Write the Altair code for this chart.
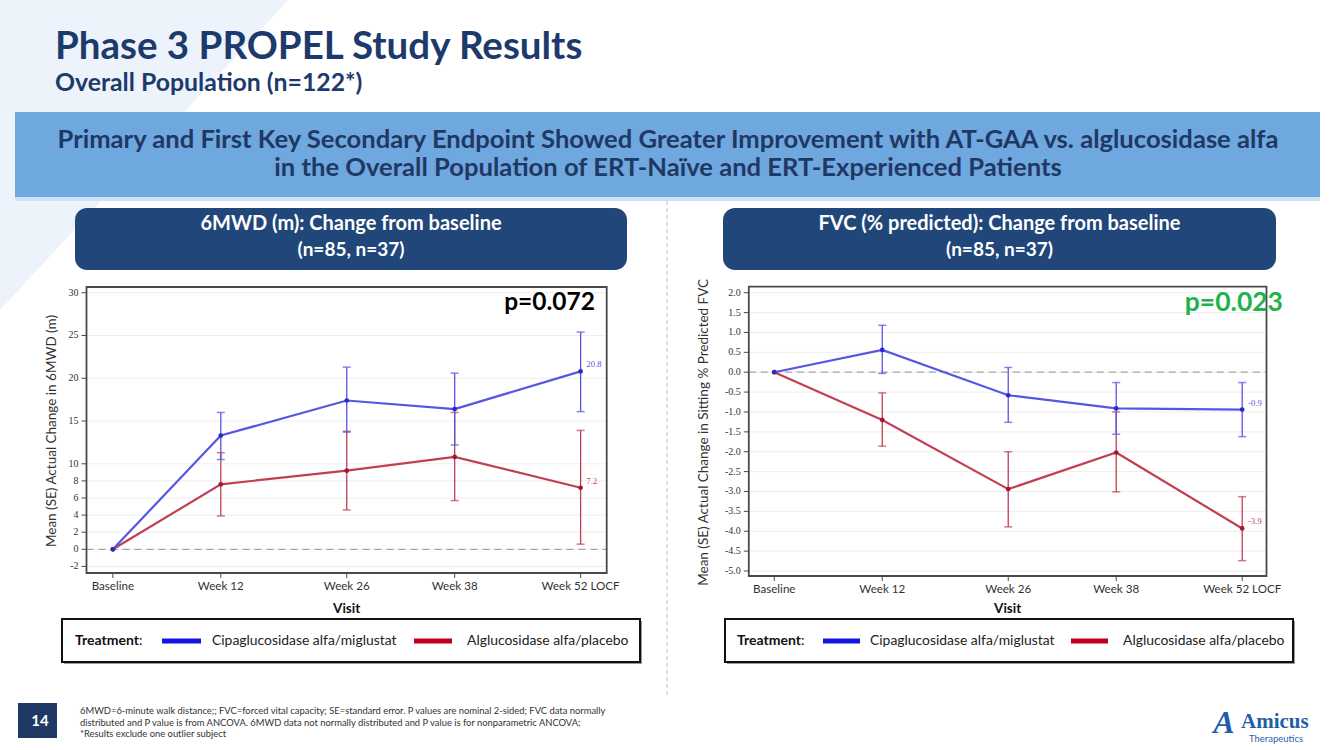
import altair as alt
import pandas as pd

# ---------------- data ----------------
weeks = [0, 12, 26, 38, 52]
visit_labels = ["Baseline", "Week 12", "Week 26", "Week 38", "Week 52 LOCF"]

mwd_cipa_mean = [0, 13.3, 17.4, 16.4, 20.8]
mwd_cipa_lo = [None, 10.5, 13.7, 12.2, 16.1]
mwd_cipa_hi = [None, 16.0, 21.3, 20.6, 25.4]
mwd_alg_mean = [0, 7.6, 9.2, 10.8, 7.2]
mwd_alg_lo = [None, 3.9, 4.6, 5.7, 0.6]
mwd_alg_hi = [None, 11.3, 13.8, 16.0, 13.9]

fvc_cipa_mean = [0, 0.56, -0.58, -0.91, -0.94]
fvc_cipa_lo = [None, -0.03, -1.26, -1.56, -1.62]
fvc_cipa_hi = [None, 1.18, 0.12, -0.26, -0.26]
fvc_alg_mean = [0, -1.2, -2.94, -2.02, -3.93]
fvc_alg_lo = [None, -1.86, -3.89, -3.01, -4.74]
fvc_alg_hi = [None, -0.52, -2.0, -1.0, -3.13]

mwd_yticks = [-2, 0, 2, 4, 6, 8, 10, 15, 20, 25, 30]
mwd_ylabels = ["-2", "0", "2", "4", "6", "8", "10", "15", "20", "25", "30"]
fvc_yticks = [2.0, 1.5, 1.0, 0.5, 0.0, -0.5, -1.0, -1.5, -2.0, -2.5, -3.0, -3.5, -4.0, -4.5, -5.0]
fvc_ylabels = ["2.0", "1.5", "1.0", "0.5", "0.0", "-0.5", "-1.0", "-1.5", "-2.0", "-2.5",
               "-3.0", "-3.5", "-4.0", "-4.5", "-5.0"]

series_names = ["Cipaglucosidase alfa/miglustat", "Alglucosidase alfa/placebo"]

# ---------------- styles / geometry ----------------
SANS = "Lato"
SERIF = "Liberation Serif"
NAVY = "#1d3a6c"
BOXNAVY = "#21467a"
BANNER = "#6fa7df"
BLUE_LINE = "#5656e4"
BLUE_PT = "#2a2ac4"
RED_LINE = "#c23f52"
RED_PT = "#a3182f"

LP = dict(x0=86.5, x1=606.7, y0=287.0, y1=573.0, xdom=[-2.93, 54.9], ydom=[-2.77, 30.67])
RP = dict(x0=748.8, x1=1266.5, y0=286.7, y1=576.0, xdom=[-2.83, 54.7], ydom=[-5.126, 2.151])

one = pd.DataFrame({"k": [0]})
layers = []


def V(v):
    return alt.value(v)


def text(x, y, s, size, color="#000", weight="normal", font=SANS, align="left",
         baseline="middle", angle=0, style=None):
    kw = dict(text=s, fontSize=size, color=color, fontWeight=weight, font=font,
              align=align, baseline=baseline)
    if angle:
        kw["angle"] = angle
    if style:
        kw["fontStyle"] = style
    return alt.Chart(one).mark_text(**kw).encode(x=V(x), y=V(y))


def rect(x, x2, y, y2, fill, stroke=None, sw=0, radius=0, opacity=1):
    kw = dict(fill=fill, opacity=opacity)
    if stroke:
        kw["stroke"] = stroke
        kw["strokeWidth"] = sw
    if radius:
        kw["cornerRadius"] = radius
    return alt.Chart(one).mark_rect(**kw).encode(x=V(x), x2=V(x2), y=V(y), y2=V(y2))


def hline(x, x2, y, color, sw, dash=None):
    kw = dict(color=color, strokeWidth=sw)
    if dash:
        kw["strokeDash"] = dash
    return alt.Chart(one).mark_rule(**kw).encode(x=V(x), x2=V(x2), y=V(y))


# ---------------- slide background ----------------
layers.append(
    alt.Chart(one).mark_point(
        shape="M 0 0 L 0.93 0 L 0 1 Z", filled=True, fill="#edf3fb", opacity=1, strokeWidth=0,
        size=(2 * 310) ** 2,
    ).encode(x=V(0), y=V(0))
)

layers.append(text(55, 47, "Phase 3 PROPEL Study Results", 38.5, NAVY, "bold", baseline="middle"))
layers.append(text(55, 84, "Overall Population (n=122*)", 24.8, NAVY, "bold", baseline="middle"))

layers.append(rect(15, 1320, 112, 197, BANNER))
layers.append(rect(15, 1320, 197, 201, "#cfe2f5"))
layers.append(text(668, 140, "Primary and First Key Secondary Endpoint Showed Greater Improvement with AT-GAA vs. alglucosidase alfa",
                   25.6, "#1f3864", "bold", align="center"))
layers.append(text(668, 168, "in the Overall Population of ERT-Naïve and ERT-Experienced Patients",
                   25.6, "#1f3864", "bold", align="center"))

# separator
layers.append(
    alt.Chart(one).mark_rule(color="#a9c4e6", strokeWidth=1, strokeDash=[4, 3]).encode(
        x=V(667), y=V(201), y2=V(697)
    )
)

# panel heading boxes
for (bx0, bx1, l1) in [(75, 627, "6MWD (m): Change from baseline"),
                       (723, 1276, "FVC (% predicted): Change from baseline")]:
    layers.append(rect(bx0, bx1, 208, 270, BOXNAVY, radius=12))
    layers.append(text((bx0 + bx1) / 2, 224, l1, 20, "white", "bold", align="center"))
    layers.append(text((bx0 + bx1) / 2, 250, "(n=85, n=37)", 19, "white", "bold", align="center"))


# ---------------- chart panels ----------------
def series_df(m, lo, hi):
    return pd.DataFrame({"week": weeks, "mean": m, "lo": lo, "hi": hi, "visit": visit_labels})


def panel(P, yticks, ylabels, cipa, alg, ytitle, title_x, ptext, pcolor, p_x, psize):
    xs = alt.Scale(domain=P["xdom"], range=[P["x0"], P["x1"]], nice=False, zero=False)
    ys = alt.Scale(domain=P["ydom"], range=[P["y1"], P["y0"]], nice=False, zero=False)
    X = alt.X("week:Q", scale=xs, axis=None)
    out = []
    out.append(rect(P["x0"], P["x1"], P["y0"], P["y1"], "white"))
    tick_df = pd.DataFrame({"v": yticks, "lab": ylabels})
    out.append(alt.Chart(tick_df).mark_rule(color="#eeeeee", strokeWidth=1).encode(
        x=V(P["x0"]), x2=V(P["x1"]), y=alt.Y("v:Q", scale=ys, axis=None)))
    out.append(alt.Chart(one).mark_rule(color="#a6a6a6", strokeWidth=1.3, strokeDash=[7, 5]).encode(
        x=V(P["x0"]), x2=V(P["x1"]), y=alt.datum(0, scale=ys, type="quantitative", axis=None)))
    for df, lc, pc in [(alg, RED_LINE, RED_PT), (cipa, BLUE_LINE, BLUE_PT)]:
        eb = df.dropna()
        out.append(alt.Chart(eb).mark_rule(color=lc, strokeWidth=1.3).encode(
            x=X, y=alt.Y("lo:Q", scale=ys, axis=None), y2="hi:Q"))
        caps = pd.concat([eb.assign(c=eb["lo"]), eb.assign(c=eb["hi"])])
        out.append(alt.Chart(caps).mark_tick(color=lc, orient="horizontal", size=8, thickness=1.5).encode(
            x=X, y=alt.Y("c:Q", scale=ys, axis=None)))
        out.append(alt.Chart(df).mark_line(color=lc, strokeWidth=2.2).encode(
            x=X, y=alt.Y("mean:Q", scale=ys, axis=None)))
        out.append(alt.Chart(df).mark_circle(color=pc, size=22, opacity=1).encode(
            x=X, y=alt.Y("mean:Q", scale=ys, axis=None)))
        last = df.tail(1).assign(lab=lambda d: d["mean"].map(lambda v: f"{v:.1f}"))
        out.append(alt.Chart(last).mark_text(color=lc, font=SERIF, fontSize=8.5, align="left",
                                             dx=6, dy=-7).encode(
            x=X, y=alt.Y("mean:Q", scale=ys, axis=None), text="lab:N"))
    out.append(rect(P["x0"], P["x1"], P["y0"], P["y1"], "transparent", stroke="#4a4a4a", sw=1.8))
    out.append(alt.Chart(tick_df).mark_rule(color="#4a4a4a", strokeWidth=1).encode(
        x=V(P["x0"] - 5), x2=V(P["x0"]), y=alt.Y("v:Q", scale=ys, axis=None)))
    out.append(alt.Chart(tick_df).mark_text(font=SERIF, fontSize=10, color="#333", align="right",
                                            baseline="middle").encode(
        x=V(P["x0"] - 8), y=alt.Y("v:Q", scale=ys, axis=None), text="lab:N"))
    xt = pd.DataFrame({"week": weeks, "visit": visit_labels})
    out.append(alt.Chart(xt).mark_rule(color="#4a4a4a", strokeWidth=1).encode(
        x=X, y=V(P["y1"]), y2=V(P["y1"] + 5)))
    out.append(alt.Chart(xt).mark_text(font=SANS, fontSize=11.6, color="#333", align="center",
                                       baseline="middle").encode(
        x=X, y=V(P["y1"] + 14), text="visit:N"))
    cx = (P["x0"] + P["x1"]) / 2
    out.append(text(cx, 609, "Visit", 13.5, "#111", "bold", align="center"))
    out.append(text(title_x, (P["y0"] + P["y1"]) / 2 + 1, ytitle, 13.5, "#333", align="center", angle=270))
    out.append(text(p_x, 303, ptext, psize, pcolor, "bold", align="right"))
    return out


layers += panel(LP, mwd_yticks, mwd_ylabels,
                series_df(mwd_cipa_mean, mwd_cipa_lo, mwd_cipa_hi),
                series_df(mwd_alg_mean, mwd_alg_lo, mwd_alg_hi),
                "Mean (SE) Actual Change in 6MWD (m)", 52, "p=0.072", "#000000", 595, 24.5)
layers += panel(RP, fvc_yticks, fvc_ylabels,
                series_df(fvc_cipa_mean, fvc_cipa_lo, fvc_cipa_hi),
                series_df(fvc_alg_mean, fvc_alg_lo, fvc_alg_hi),
                "Mean (SE) Actual Change in Sitting % Predicted FVC", 704, "p=0.023", "#22b14c", 1283, 26.5)

# ---------------- legends ----------------
for (bx0, bx1, tx, b0, b1, ct, r0, r1, at) in [
    (62, 640, 75, 162, 201, 212, 414, 452, 467),
    (725, 1293, 737, 823, 860, 870, 1071, 1108, 1123),
]:
    layers.append(rect(bx0 + 2, bx1 + 2, 621, 664, "#9a9a9a"))
    layers.append(rect(bx0, bx1, 619, 662, "white", stroke="#111", sw=2))
    layers.append(text(tx, 641, "Treatment", 14, "#111", "bold"))
    layers.append(text(tx + 64, 641, ":", 14, "#111"))
    layers.append(hline(b0, b1, 641, "#1414e6", 5))
    layers.append(text(ct, 641, series_names[0], 13.9, "#222"))
    layers.append(hline(r0, r1, 641, "#c0001a", 5))
    layers.append(text(at, 641, series_names[1], 13.9, "#222"))

# ---------------- footer ----------------
layers.append(rect(18, 57, 703, 738, "#1f3864"))
layers.append(text(40, 721, "14", 15, "white", "bold", align="center"))
foot = [
    "6MWD=6-minute walk distance;; FVC=forced vital capacity; SE=standard error. P values are nominal 2-sided; FVC data normally",
    "distributed and P value is from ANCOVA. 6MWD data not normally distributed and  P value is for nonparametric ANCOVA;",
    "*Results exclude one outlier subject",
]
for i, ln in enumerate(foot):
    layers.append(text(80, 711 + 11.5 * i, ln, 9.4, "#333"))

# logo
layers.append(text(1224, 723, "A", 32, "#1f5fa8", "bold", font=SERIF, align="center", style="italic"))
layers.append(text(1241, 722, "Amicus", 21, "#1f5fa8", "bold", font=SERIF))
layers.append(text(1249, 739, "Therapeutics", 9.5, "#1f5fa8", font=SANS))

chart = alt.layer(*layers).resolve_scale(x="independent", y="independent").properties(
    width=1333, height=750, autosize="none", padding=0, background="white"
).configure_view(strokeWidth=0)

chart.save("out.html", embed_options={"renderer": "svg", "actions": False})
